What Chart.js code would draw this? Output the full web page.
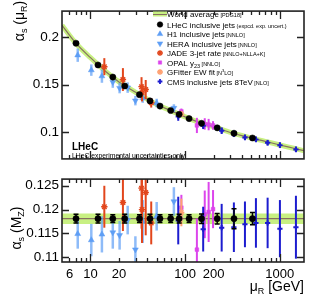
<!DOCTYPE html>
<html>
<head>
<meta charset="utf-8">
<script src="https://cdn.jsdelivr.net/npm/chart.js@4.4.0/dist/chart.umd.min.js"></script>
<style>
html, body { margin: 0; padding: 0; background: #fff; }
#wrap { position: relative; width: 316px; height: 308px; }
#topChart { position: absolute; left: 0; top: 0; }
#botChart { position: absolute; left: 0; top: 168px; }
</style>
</head>
<body>
<div id="wrap">
  <canvas id="topChart" width="316" height="170"></canvas>
  <canvas id="botChart" width="316" height="140"></canvas>
</div>
<script>
const xTicks = [6, 10, 20, 100, 200, 1000];
const topTicks = [0.1, 0.15, 0.2];
const botTicks = [0.11, 0.115, 0.12, 0.125];

// world average running curve
const waMu = [5, 7, 10, 15, 20, 30, 50, 70, 100, 150, 200, 300, 500, 700, 1000, 1400, 1800];
const waAlpha = [0.2125, 0.1937, 0.1785, 0.1627, 0.1530, 0.1421, 0.1293, 0.1229, 0.1162, 0.1094, 0.1058, 0.0998, 0.0940, 0.0905, 0.0866, 0.0832, 0.0806];
const waMz = 0.1181;
const waMzErr = 0.0011;

const lhecMu = [7.03, 12.0, 17.2, 23.0, 32.9, 42.5, 54.2, 70.3, 86.4, 110, 149, 218, 328, 514];
const lhecTop = [0.1937, 0.1708, 0.1581, 0.1487, 0.1396, 0.1330, 0.1276, 0.1229, 0.1189, 0.1144, 0.1094, 0.1047, 0.0990, 0.0940];
const lhecTopErr = [0.0010, 0.0008, 0.0007, 0.0006, 0.0006, 0.0006, 0.0005, 0.0005, 0.0005, 0.0005, 0.0005, 0.0006, 0.0012, 0.0008];
const lhecMz = [0.1181, 0.1181, 0.1181, 0.1181, 0.1181, 0.1181, 0.1181, 0.1181, 0.1181, 0.1181, 0.1181, 0.1181, 0.1181, 0.1181];
const lhecMzErr = [0.0009, 0.0009, 0.0008, 0.0009, 0.0008, 0.0009, 0.0008, 0.0008, 0.0009, 0.0008, 0.0010, 0.0011, 0.0021, 0.0013];

const h1Mu = [7.33, 10.2, 13.2, 35.6, 50];
const h1Top = [0.1811, 0.1654, 0.1591, 0.1360, 0.1308];
const h1TopErr = [0.0070, 0.0060, 0.0070, 0.0050, 0.0045];
const h1Mz = [0.1149, 0.1136, 0.1148, 0.1175, 0.1186];
const h1MzErr = [0.0031, 0.0034, 0.0038, 0.0045, 0.0030];

const heraMu = [17.2, 20.3, 24.7, 29.8, 76];
const heraTop = [0.1528, 0.1465, 0.1470, 0.1333, 0.1255];
const heraTopErr = [0.0060, 0.0055, 0.0055, 0.0050, 0.0040];
const heraMz = [0.1152, 0.1146, 0.1178, 0.1116, 0.1217];
const heraMzErr = [0.0034, 0.0030, 0.0030, 0.0028, 0.0030];

const jadeMu = [14, 22, 34.6, 35, 38.3, 43.8];
const jadeTop = [0.1690, 0.1555, 0.1480, 0.1415, 0.1450, 0.1310];
const jadeTopErr = [0.0090, 0.0120, 0.0100, 0.0090, 0.0100, 0.0050];
const jadeMz = [0.1206, 0.1215, 0.1245, 0.1200, 0.1236, 0.1172];
const jadeMzErr = [0.0044, 0.0060, 0.0085, 0.0070, 0.0090, 0.0045];

const opalMu = [91.2, 133, 161, 177, 197];
const opalTop = [0.1220, 0.1072, 0.1088, 0.1081, 0.1072];
const opalTopErr = [0.0030, 0.0080, 0.0060, 0.0060, 0.0045];
const opalMz = [0.1204, 0.1116, 0.1190, 0.1195, 0.1201];
const opalMzErr = [0.0027, 0.0065, 0.0050, 0.0063, 0.0040];

const gfMu = [91.19];
const gfTop = [0.1194];
const gfTopErr = [0.0029];
const gfMz = [0.1194];
const gfMzErr = [0.0029];

const cmsMu = [84.5, 155, 243, 327, 428, 559, 743, 1002, 1479];
const cmsTop = [0.1166, 0.1069, 0.1017, 0.0985, 0.0946, 0.0925, 0.0890, 0.0864, 0.0820];
const cmsTopErr = [0.0045, 0.0035, 0.0035, 0.0035, 0.0030, 0.0030, 0.0030, 0.0030, 0.0030];
const cmsMz = [0.1177, 0.1159, 0.1162, 0.1163, 0.1169, 0.1172, 0.1172, 0.1160, 0.1163];
const cmsMzErr = [0.0050, 0.0047, 0.0050, 0.0052, 0.0048, 0.0052, 0.0053, 0.0060, 0.0066];

const X_MIN = 5, X_MAX = 1800;
const FONT = '"Liberation Sans", Arial, Helvetica, sans-serif';
const GREEN = '#c8f082';
const WALINE = '#86705f';
const LBLUE = '#5e9ef5';
const JADEC = '#e2461c';
const OPALC = '#dc45ec';
const GFC = '#ffa070';
const CMSC = '#1c1ccf';

const pts = (mu, a) => mu.map((m, i) => ({ x: m, y: a[i] }));

function pointSet(label, mu, vals, errs, color, style, extra) {
    return Object.assign({
        label,
        data: pts(mu, vals),
        err: errs,
        backgroundColor: color,
        borderColor: color,
        pointStyle: style,
        pointRadius: 2.8,
        borderWidth: 0.5,
        showLine: false,
        errWidth: 2
    }, extra || {});
}

function markerSets(top) {
    return [
        pointSet('LHeC', lhecMu, top ? lhecTop : lhecMz, top ? lhecTopErr : lhecMzErr, '#000', 'circle',
            { pointRadius: 3.1, errWidth: 1.5, cap: 2.5, order: 0 }),
        pointSet('CMS', cmsMu, top ? cmsTop : cmsMz, top ? cmsTopErr : cmsMzErr, CMSC, 'cross',
            { borderWidth: 2, pointRadius: 2.6, order: 1 }),
        pointSet('GFitter', gfMu, top ? gfTop : gfMz, top ? gfTopErr : gfMzErr, GFC, 'star',
            { borderWidth: 1.4, pointRadius: 3, order: 2 }),
        pointSet('OPAL', opalMu, top ? opalTop : opalMz, top ? opalTopErr : opalMzErr, OPALC, 'rect',
            { pointRadius: 2.6, order: 3 }),
        pointSet('JADE', jadeMu, top ? jadeTop : jadeMz, top ? jadeTopErr : jadeMzErr, JADEC, 'star',
            { borderWidth: 1.4, pointRadius: 3.2, order: 4 }),
        pointSet('HERA', heraMu, top ? heraTop : heraMz, top ? heraTopErr : heraMzErr, LBLUE, 'triangle',
            { rotation: 180, pointRadius: 3.4, errColor: 'rgba(94,158,245,0.7)', errWidth: 2.5, order: 5 }),
        pointSet('H1', h1Mu, top ? h1Top : h1Mz, top ? h1TopErr : h1MzErr, LBLUE, 'triangle',
            { pointRadius: 3.4, errColor: 'rgba(94,158,245,0.7)', errWidth: 2.5, order: 6 })
    ];
}

// error bars drawn just before each dataset's markers
const errorBars = {
    id: 'errorBars',
    beforeDatasetDraw(chart, args) {
        const ds = chart.data.datasets[args.index];
        if (!ds.err) return;
        const ctx = chart.ctx, a = chart.chartArea;
        const xs = chart.scales.x, ys = chart.scales.y;
        ctx.save();
        ctx.beginPath();
        ctx.rect(a.left, a.top, a.right - a.left, a.bottom - a.top);
        ctx.clip();
        ctx.strokeStyle = ds.errColor || ds.borderColor;
        ctx.lineWidth = ds.errWidth;
        ds.data.forEach((p, i) => {
            const x = xs.getPixelForValue(p.x);
            const y1 = ys.getPixelForValue(p.y + ds.err[i]);
            const y2 = ys.getPixelForValue(p.y - ds.err[i]);
            ctx.beginPath();
            ctx.moveTo(x, y1);
            ctx.lineTo(x, y2);
            if (ds.cap) {
                ctx.moveTo(x - ds.cap, y1); ctx.lineTo(x + ds.cap, y1);
                ctx.moveTo(x - ds.cap, y2); ctx.lineTo(x + ds.cap, y2);
            }
            ctx.stroke();
        });
        ctx.restore();
    }
};

function rich(ctx, parts, x, y, align) {
    let w = 0;
    parts.forEach(p => {
        ctx.font = (p[3] || '') + ' ' + p[1] + 'px ' + FONT;
        w += ctx.measureText(p[0]).width;
    });
    let cx = align === 'right' ? x - w : align === 'center' ? x - w / 2 : x;
    parts.forEach(p => {
        ctx.font = (p[3] || '') + ' ' + p[1] + 'px ' + FONT;
        ctx.fillText(p[0], cx, y + (p[2] || 0));
        cx += ctx.measureText(p[0]).width;
    });
}

// ROOT style frame with inward ticks
function frame(chart, yTicks) {
    const ctx = chart.ctx, a = chart.chartArea;
    const xs = chart.scales.x, ys = chart.scales.y;
    ctx.save();
    ctx.strokeStyle = '#222';
    ctx.lineWidth = 1.3;
    ctx.beginPath();
    for (let d = 1; d <= 1000; d *= 10) {
        for (let k = 1; k <= 9; k++) {
            const v = d * k;
            if (v <= X_MIN || v >= X_MAX) continue;
            const x = Math.round(xs.getPixelForValue(v)) + 0.5;
            const len = k === 1 ? 8 : 4;
            ctx.moveTo(x, a.top); ctx.lineTo(x, a.top + len);
            ctx.moveTo(x, a.bottom); ctx.lineTo(x, a.bottom - len);
        }
    }
    yTicks.forEach(v => {
        const y = Math.round(ys.getPixelForValue(v)) + 0.5;
        ctx.moveTo(a.left, y); ctx.lineTo(a.left + 7, y);
        ctx.moveTo(a.right, y); ctx.lineTo(a.right - 7, y);
    });
    ctx.stroke();
    ctx.lineWidth = 1.6;
    ctx.strokeRect(a.left, a.top, a.right - a.left, a.bottom - a.top);
    ctx.restore();
}

const topDecor = {
    id: 'topDecor',
    afterDraw(chart) {
        frame(chart, topTicks);
        const ctx = chart.ctx;
        ctx.save();
        ctx.fillStyle = '#000';
        ctx.textBaseline = 'alphabetic';
        // y title
        ctx.save();
        ctx.translate(24, 21);
        ctx.rotate(-Math.PI / 2);
        rich(ctx, [['α', 14], ['s', 9, 3], [' (', 14], ['μ', 14], ['R', 9, 3], [')', 14]], 0, 0, 'center');
        ctx.restore();
        // legend
        const H = Chart.helpers;
        const rows = [
            { main: 'World average', small: ' [PDG18]', y: 14 },
            { main: 'LHeC inclusive jets', small: ' (expcd. exp. uncert.)', y: 24.5, c: '#000', s: 'circle', r: 2.8 },
            { main: 'H1 inclusive jets', small: ' [NNLO]', y: 34, c: LBLUE, s: 'triangle', r: 3.2 },
            { main: 'HERA inclusive jets', small: ' [NNLO]', y: 43.5, c: LBLUE, s: 'triangle', r: 3.2, rot: 180 },
            { main: 'JADE 3-jet rate', small: ' [NNLO+NLLA+K]', y: 53, c: JADEC, s: 'star', r: 3, bw: 1.3 },
            { main: 'OPAL y', small: ' [NNLO]', sub: '23', y: 62.5, c: OPALC, s: 'rect', r: 2.4 },
            { main: 'GFitter EW fit', small: ' [N', sup: '3', tail: 'LO]', y: 72, c: GFC, s: 'star', r: 3, bw: 1.3 },
            { main: 'CMS inclusive jets 8TeV', small: ' [NLO]', y: 81.5, c: CMSC, s: 'cross', r: 2.4, bw: 1.8 }
        ];
        rows.forEach(r => {
            if (r.s) {
                ctx.fillStyle = r.c; ctx.strokeStyle = r.c; ctx.lineWidth = r.bw || 0.5;
                H.drawPoint(ctx, { pointStyle: r.s, radius: r.r, rotation: r.rot || 0, borderWidth: r.bw || 0.5 }, 160, r.y);
            } else {
                ctx.fillStyle = GREEN;
                ctx.fillRect(153, r.y - 2.5, 14, 5);
                ctx.strokeStyle = WALINE; ctx.lineWidth = 1;
                ctx.beginPath(); ctx.moveTo(153, r.y + 0.5); ctx.lineTo(167, r.y + 0.5); ctx.stroke();
            }
            ctx.fillStyle = '#000';
            const parts = [[r.main, 8]];
            if (r.sub) parts.push([r.sub, 5.5, 2]);
            parts.push([r.small, 5.5]);
            if (r.sup) parts.push([r.sup, 4, -3]);
            if (r.tail) parts.push([r.tail, 5.5]);
            rich(ctx, parts, 167, r.y + 3, 'left');
        });
        // labels
        rich(ctx, [['LHeC', 10, 0, 'bold']], 72, 150, 'left');
        rich(ctx, [['LHeC experimental uncertainties only', 6.8]], 72, 158, 'left');
        ctx.restore();
    }
};

const botDecor = {
    id: 'botDecor',
    afterDraw(chart) {
        frame(chart, botTicks);
        const ctx = chart.ctx;
        ctx.save();
        ctx.fillStyle = '#000';
        ctx.save();
        ctx.translate(21, 60);
        ctx.rotate(-Math.PI / 2);
        rich(ctx, [['α', 14], ['s', 9, 3], [' (', 14], ['M', 14], ['Z', 9, 3], [')', 14]], 0, 0, 'center');
        ctx.restore();
        rich(ctx, [['μ', 14], ['R', 9, 3], [' [GeV]', 14]], 304, 123, 'right');
        ctx.restore();
    }
};

function makeOptions(yMin, yMax, yTicks, showX, pad) {
    return {
        responsive: false,
        animation: false,
        events: [],
        layout: { padding: pad },
        plugins: { legend: { display: false }, tooltip: { enabled: false } },
        scales: {
            x: {
                type: 'logarithmic',
                min: X_MIN,
                max: X_MAX,
                display: showX,
                afterBuildTicks: s => { s.ticks = xTicks.map(v => ({ value: v })); },
                afterFit: s => { if (showX) s.height = 46; },
                grid: { display: false, drawTicks: false },
                border: { display: false },
                ticks: {
                    autoSkip: false,
                    maxRotation: 0,
                    padding: 5,
                    color: '#000',
                    font: { family: FONT, size: 13 },
                    callback: v => String(v)
                }
            },
            y: {
                type: 'linear',
                min: yMin,
                max: yMax,
                afterBuildTicks: s => { s.ticks = yTicks.map(v => ({ value: v })); },
                afterFit: s => { s.width = 62; },
                grid: { display: false, drawTicks: false },
                border: { display: false },
                ticks: {
                    padding: 3,
                    color: '#000',
                    font: { family: FONT, size: 13.5 },
                    callback: v => String(+v.toFixed(3))
                }
            }
        }
    };
}

new Chart(document.getElementById('topChart'), {
    type: 'scatter',
    data: {
        datasets: [
            ...markerSets(true),
            { label: 'WA line', data: pts(waMu, waAlpha), showLine: true, borderColor: WALINE, borderWidth: 1.2,
              pointRadius: 0, cubicInterpolationMode: 'monotone', order: 9 },
            { label: 'WA band', data: pts(waMu, waAlpha), showLine: true, borderColor: GREEN, borderWidth: 5,
              pointRadius: 0, cubicInterpolationMode: 'monotone', order: 10 }
        ]
    },
    options: makeOptions(0.072, 0.2275, topTicks, false, { top: 4, right: 12, bottom: 2, left: 0 }),
    plugins: [errorBars, topDecor]
});

new Chart(document.getElementById('botChart'), {
    type: 'scatter',
    data: {
        datasets: [
            ...markerSets(false),
            { label: 'WA', data: pts([X_MIN, X_MAX], [waMz, waMz]), showLine: true, borderColor: WALINE,
              borderWidth: 1.2, pointRadius: 0, order: 9 },
            { label: 'WA hi', data: pts([X_MIN, X_MAX], [waMz + waMzErr, waMz + waMzErr]), showLine: true,
              borderWidth: 0, pointRadius: 0, backgroundColor: GREEN, fill: '+1', order: 10 },
            { label: 'WA lo', data: pts([X_MIN, X_MAX], [waMz - waMzErr, waMz - waMzErr]), showLine: true,
              borderWidth: 0, pointRadius: 0, fill: false, order: 11 }
        ]
    },
    options: makeOptions(0.109, 0.1264, botTicks, true, { top: 0, right: 12, bottom: 0, left: 0 }),
    plugins: [errorBars, botDecor]
});
</script>
</body>
</html>
